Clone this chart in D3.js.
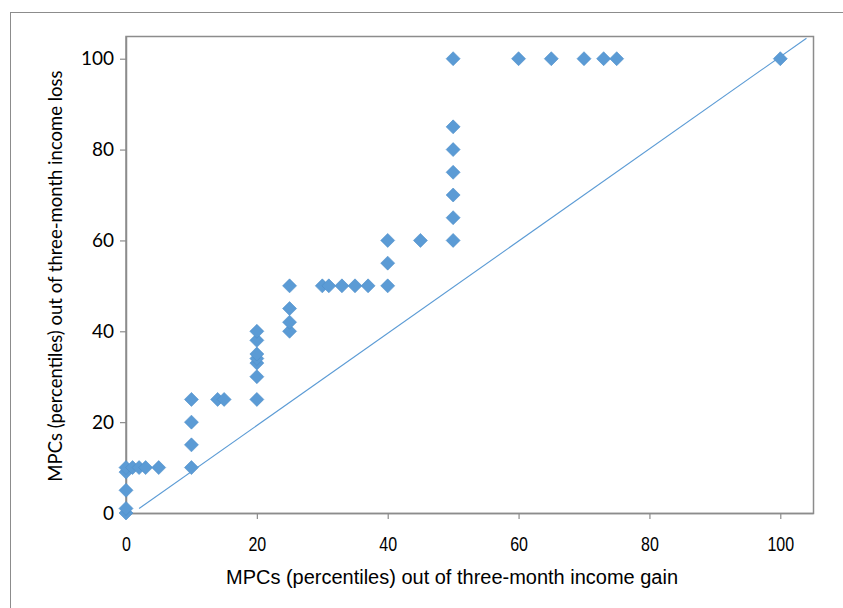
<!DOCTYPE html>
<html>
<head>
<meta charset="utf-8">
<script src="https://cdnjs.cloudflare.com/ajax/libs/d3/7.8.5/d3.min.js"></script>
<style>
  body { margin: 0; background: #fff; }
  svg { display: block; }
</style>
</head>
<body>
<svg id="chart" width="843" height="608"></svg>
<script>
// MPC out of gain (x) vs MPC out of loss (y), percentiles
var gainMPC = [0, 0, 0, 0, 0, 1, 2, 3, 5,
               10, 10, 10, 10, 14, 15,
               20, 20, 20, 20, 20, 20, 20,
               25, 25, 25, 25, 30, 31, 33, 35, 37,
               40, 40, 40, 45,
               50, 50, 50, 50, 50, 50, 50,
               60, 65, 70, 73, 75, 100];
var lossMPC = [0, 1, 5, 9, 10, 10, 10, 10, 10,
               10, 15, 20, 25, 25, 25,
               25, 30, 33, 34, 35, 38, 40,
               40, 42, 45, 50, 50, 50, 50, 50, 50,
               50, 55, 60, 60,
               60, 65, 70, 75, 80, 85, 100,
               100, 100, 100, 100, 100, 100];
var refLineX = [2, 104];
var refLineY = [1, 104.5];
var tickVals = [0, 20, 40, 60, 80, 100];

var svg = d3.select("#chart");
var plotL = 126, plotT = 36, plotR = 813, plotB = 513;

var x = d3.scaleLinear().domain([0, 105]).range([plotL, plotR]);
var y = d3.scaleLinear().domain([0, 105]).range([plotB, plotT]);

// outer chart border
svg.append("rect").attr("x", 10.5).attr("y", 12.5).attr("width", 850).attr("height", 620)
   .attr("fill", "none").attr("stroke", "#8c8c8c").attr("stroke-width", 1);

// plot area frame
svg.append("rect").attr("x", plotL).attr("y", plotT + 0.5)
   .attr("width", plotR - plotL + 0.5).attr("height", plotB - plotT)
   .attr("fill", "none").attr("stroke", "#8c8c8c").attr("stroke-width", 1.5);

var xAxis = svg.append("g").attr("transform", "translate(0," + plotB + ")")
   .call(d3.axisBottom(x).tickValues(tickVals).tickSize(6).tickPadding(18).tickSizeOuter(0));
var yAxis = svg.append("g").attr("transform", "translate(" + plotL + ",0)")
   .call(d3.axisLeft(y).tickValues(tickVals).tickSize(6).tickPadding(6).tickSizeOuter(0));

xAxis.select(".domain").attr("stroke", "#8c8c8c").attr("stroke-width", 1.5);
yAxis.select(".domain").attr("stroke", "#8c8c8c").attr("stroke-width", 1.5);
svg.selectAll(".tick line").attr("stroke", "#8c8c8c").attr("stroke-width", 1.2);
xAxis.selectAll("text").attr("font-family", "'Liberation Sans', Arial, sans-serif")
   .attr("font-size", 20).attr("fill", "#000").attr("transform", "scale(0.8,1)");
yAxis.selectAll("text").attr("font-family", "Lato, 'Open Sans', sans-serif")
   .attr("font-size", 19).attr("fill", "#000");

// 45-degree reference line
svg.append("line")
   .attr("x1", x(refLineX[0])).attr("y1", y(refLineY[0]))
   .attr("x2", x(refLineX[1])).attr("y2", y(refLineY[1]))
   .attr("stroke", "#5b9bd5").attr("stroke-width", 1.1);

// diamond markers
var diamond = "M0,-7L7,0L0,7L-7,0Z";
svg.append("g").selectAll("path").data(gainMPC).enter().append("path")
   .attr("d", diamond)
   .attr("transform", function(d, i) { return "translate(" + x(d) + "," + y(lossMPC[i]) + ")"; })
   .attr("fill", "#5b9bd5").attr("stroke", "#4f8fc9").attr("stroke-width", 0.6);

// axis titles
svg.append("text").attr("x", 452).attr("y", 584).attr("text-anchor", "middle")
   .attr("font-family", "'Liberation Sans', Arial, sans-serif").attr("font-size", 20)
   .attr("textLength", 452).attr("lengthAdjust", "spacingAndGlyphs")
   .text("MPCs (percentiles) out of three-month income gain");
svg.append("text").attr("transform", "translate(62,276) rotate(-90)").attr("text-anchor", "middle")
   .attr("font-family", "Lato, 'Open Sans', sans-serif").attr("font-size", 18.5)
   .text("MPCs (percentiles) out of three-month income loss");
</script>
</body>
</html>
